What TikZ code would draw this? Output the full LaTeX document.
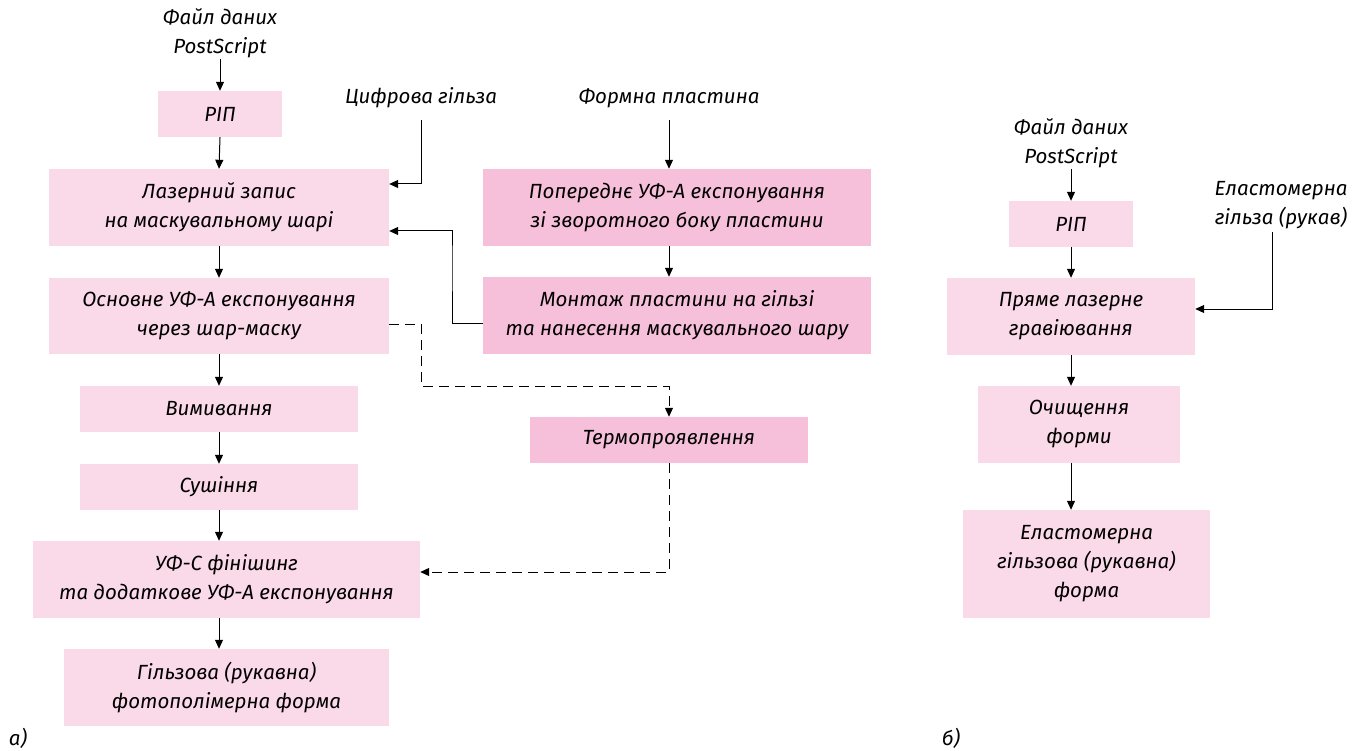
\documentclass[tikz,border=0pt]{standalone}
\usepackage{fontspec}
\setmainfont{Fira Sans}
\usetikzlibrary{arrows.meta,calc}
\definecolor{pinkA}{RGB}{250,217,232}
\definecolor{pinkB}{RGB}{247,192,218}
\begin{document}
\begin{tikzpicture}[x=1pt,y=-1pt,
  every node/.style={font=\fontsize{20.5}{29}\selectfont\itshape, align=center, text=black},
  lbox/.style={fill=pinkA, inner sep=0pt},
  dbox/.style={fill=pinkB, inner sep=0pt},
  lbl/.style={inner sep=1pt},
  arr/.style={-{Triangle[length=9pt,width=8pt]}, line width=1pt},
  darr/.style={arr, dash pattern=on 10pt off 6pt}]
\useasboundingbox (0,0) rectangle (1362,751);
% left column
\node[lbl] (f1) at (220,33) {Файл даних\\PostScript};
\node[lbox, minimum width=124, minimum height=46] (rip1) at (220,114) {РІП};
\node[lbox, minimum width=340, minimum height=77] (lz) at (219,207.5) {Лазерний запис\\на маскувальному шарі};
\node[lbox, minimum width=340, minimum height=76] (osn) at (219,316) {Основне УФ-А експонування\\через шар-маску};
\node[lbox, minimum width=278, minimum height=46] (vym) at (219,409) {Вимивання};
\node[lbox, minimum width=278, minimum height=46] (sush) at (219,487) {Сушіння};
\node[lbox, minimum width=387, minimum height=77] (uvc) at (226.5,579.5) {УФ-С фінішинг\\та додаткове УФ-А експонування};
\node[lbox, minimum width=325, minimum height=77] (gilz) at (226.5,687.5) {Гільзова (рукавна)\\фотополімерна форма};
\node[lbl] (la) at (18,738) {а)};
% middle
\node[lbl] (cif) at (421,98) {Цифрова гільза};
\node[lbl] (form) at (669,98) {Формна пластина};
\node[dbox, minimum width=388, minimum height=77] (pop) at (677,207.5) {Попереднє УФ-А експонування\\зі зворотного боку пластини};
\node[dbox, minimum width=388, minimum height=77] (mont) at (677,315.5) {Монтаж пластини на гільзі\\та нанесення маскувального шару};
\node[dbox, minimum width=278, minimum height=46] (term) at (669,440) {Термопроявлення};
% right column
\node[lbl] (f2) at (1071,143) {Файл даних\\PostScript};
\node[lbox, minimum width=124, minimum height=46] (rip2) at (1071,224) {РІП};
\node[lbox, minimum width=248, minimum height=77] (pr) at (1071,316.5) {Пряме лазерне\\гравіювання};
\node[lbl] (el) at (1281,205) {Еластомерна\\гільза (рукав)};
\node[lbox, minimum width=202, minimum height=77] (och) at (1079,424.5) {Очищення\\форми};
\node[lbox, minimum width=247, minimum height=108] (elf) at (1086.5,564) {Еластомерна\\гільзова (рукавна)\\форма};
\node[lbl] (lb) at (951,738) {б)};
% helper coordinates
\coordinate (c1) at (421,120);
\coordinate (c2) at (669,120);
\coordinate (c3) at (1272,232);
% connectors left
\draw[arr] (f1.south) -- (rip1.north);
\draw[arr] (rip1.south) -- (lz.north);
\draw[arr] (lz.south) -- (osn.north);
\draw[arr] (osn.south) -- (vym.north);
\draw[arr] (vym.south) -- (sush.north);
\draw[arr] (sush.south) -- (uvc.north -| sush.south);
\draw[arr] (uvc.south -| sush.south) -- (gilz.north -| sush.south);
% middle connectors
\draw[arr] (c1) |- ([yshift=23.5pt]lz.east);
\draw[arr] (c2) -- (pop.north -| c2);
\draw[arr] (pop.south -| c2) -- (mont.north -| c2);
\draw[arr] ([yshift=-7.5pt]mont.west) -| (452,260) |- ([yshift=-23.5pt]lz.east);
\draw[darr] ([yshift=-8pt]osn.east) -| (421,386) -| (term.north);
\draw[darr] (term.south) |- ([yshift=7.5pt]uvc.east);
% right connectors
\draw[arr] (f2.south) -- (rip2.north);
\draw[arr] (rip2.south) -- (pr.north);
\draw[arr] (c3) |- ([yshift=7.5pt]pr.east);
\draw[arr] (pr.south) -- (pr.south |- och.north);
\draw[arr] (pr.south |- och.south) -- (pr.south |- elf.north);
\end{tikzpicture}
\end{document}
